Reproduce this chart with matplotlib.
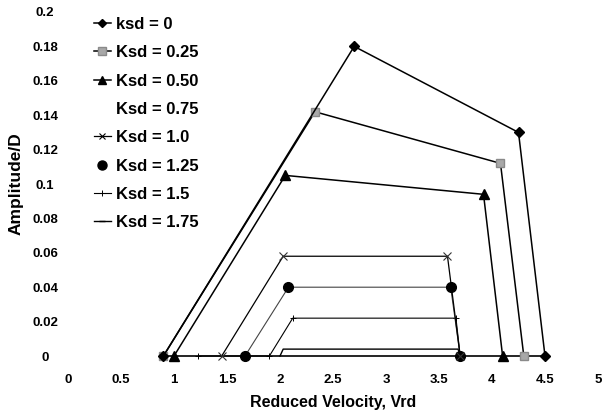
import matplotlib
matplotlib.use("Agg")
from matplotlib import pyplot as plt
from matplotlib.lines import Line2D

plt.rcParams['font.family'] = ['Liberation Sans', 'DejaVu Sans']
plt.rcParams['font.weight'] = 'bold'

# Amplitude vs reduced velocity for each Ksd
vel_k0 = [0.9, 2.7, 4.25, 4.5]
amp_k0 = [0, 0.18, 0.13, 0]
vel_k025 = [0.9, 2.33, 4.08, 4.3]
amp_k025 = [0, 0.142, 0.112, 0]
vel_k05 = [1.0, 2.05, 3.92, 4.1]
amp_k05 = [0, 0.105, 0.094, 0]
vel_k075 = [0.9, 4.5]
amp_k075 = [0, 0]
vel_k1 = [1.45, 2.03, 3.58, 3.7]
amp_k1 = [0, 0.058, 0.058, 0]
vel_k125 = [1.67, 2.08, 3.61, 3.7]
amp_k125 = [0, 0.040, 0.040, 0]
vel_k15 = [1.23, 1.9, 2.12, 3.66, 3.7]
amp_k15 = [0, 0, 0.022, 0.022, 0]
vel_k175 = [2.0, 2.03, 3.68, 3.7]
amp_k175 = [0, 0.004, 0.004, 0]

labels = ['ksd = 0', 'Ksd = 0.25', 'Ksd = 0.50', 'Ksd = 0.75',
          'Ksd = 1.0', 'Ksd = 1.25', 'Ksd = 1.5', 'Ksd = 1.75']
x_ticks = [0, 0.5, 1, 1.5, 2, 2.5, 3, 3.5, 4, 4.5, 5]
y_ticks = [0, 0.02, 0.04, 0.06, 0.08, 0.1, 0.12, 0.14, 0.16, 0.18, 0.2]

fig = plt.figure(figsize=(6.02, 4.15), dpi=100)
ax = fig.add_axes([68/602, 59/415, 530/602, 344/415])

ax.plot(vel_k075, amp_k075, color='black', lw=1.2)
ax.plot(vel_k175, amp_k175, color='black', lw=1.0)
ax.plot(vel_k15, amp_k15, color='black', lw=0.8, marker='+', ms=4, mew=0.7)
ax.plot(vel_k125, amp_k125, color='#444444', lw=0.8, marker='o', ms=7,
        mfc='black', mec='black')
ax.plot(vel_k1, amp_k1, color='black', lw=0.9, marker='x', ms=5.5, mew=0.8,
        mec='#333333')
ax.plot(vel_k05, amp_k05, color='black', lw=1.1, marker='^', ms=7)
ax.plot(vel_k025, amp_k025, color='black', lw=1.1, marker='s', ms=6,
        mfc='#a8a8a8', mec='#8a8a8a')
ax.plot(vel_k0, amp_k0, color='black', lw=1.1, marker='D', ms=5)
for ln in ax.lines:
    ln.set_clip_on(False)

handles = [
    Line2D([], [], color='black', lw=1.1, marker='D', ms=4.5),
    Line2D([], [], color='black', lw=1.1, marker='s', ms=5.5,
           mfc='#a8a8a8', mec='#8a8a8a'),
    Line2D([], [], color='black', lw=1.1, marker='^', ms=6),
    Line2D([], [], color='none'),
    Line2D([], [], color='black', lw=0.9, marker='x', ms=5, mew=0.8),
    Line2D([], [], color='none', marker='o', ms=6.5, mfc='black', mec='black'),
    Line2D([], [], color='black', lw=0.8, marker='+', ms=4, mew=0.7),
    Line2D([], [], color='black', lw=1.0, marker='_', ms=4),
]
leg = ax.legend(handles, labels, loc='upper left',
                bbox_to_anchor=(94/602, 1 - 17/415), bbox_transform=fig.transFigure,
                frameon=False, fontsize=12, handlelength=1.0, handletextpad=0.3,
                labelspacing=0.8, borderpad=0, borderaxespad=0)
for t in leg.get_texts():
    t.set_fontweight('bold')

ax.set_xlim(0, 5)
ax.set_ylim(0, 0.2)
ax.set_xticks(x_ticks)
ax.set_xticklabels([f'{v:g}' for v in x_ticks])
ax.set_yticks(y_ticks)
ax.set_yticklabels([f'{v:g}' for v in y_ticks])
ax.tick_params(axis='x', length=0, pad=13, labelsize=9.5)
ax.tick_params(axis='y', length=0, pad=16.5, labelsize=9.5)
for lab in ax.get_yticklabels():
    lab.set_horizontalalignment('center')
for lab in ax.get_xticklabels() + ax.get_yticklabels():
    lab.set_fontweight('bold')
for s in ax.spines.values():
    s.set_visible(False)

ax.set_xlabel('Reduced Velocity, Vrd', fontsize=11.5, fontweight='bold')
ax.xaxis.set_label_coords(0.5, -0.114)
ax.set_ylabel('Amplitude/D', fontsize=12.5, fontweight='bold')
ax.yaxis.set_label_coords(-0.083, 0.5)

plt.savefig('out.png', dpi=100)
